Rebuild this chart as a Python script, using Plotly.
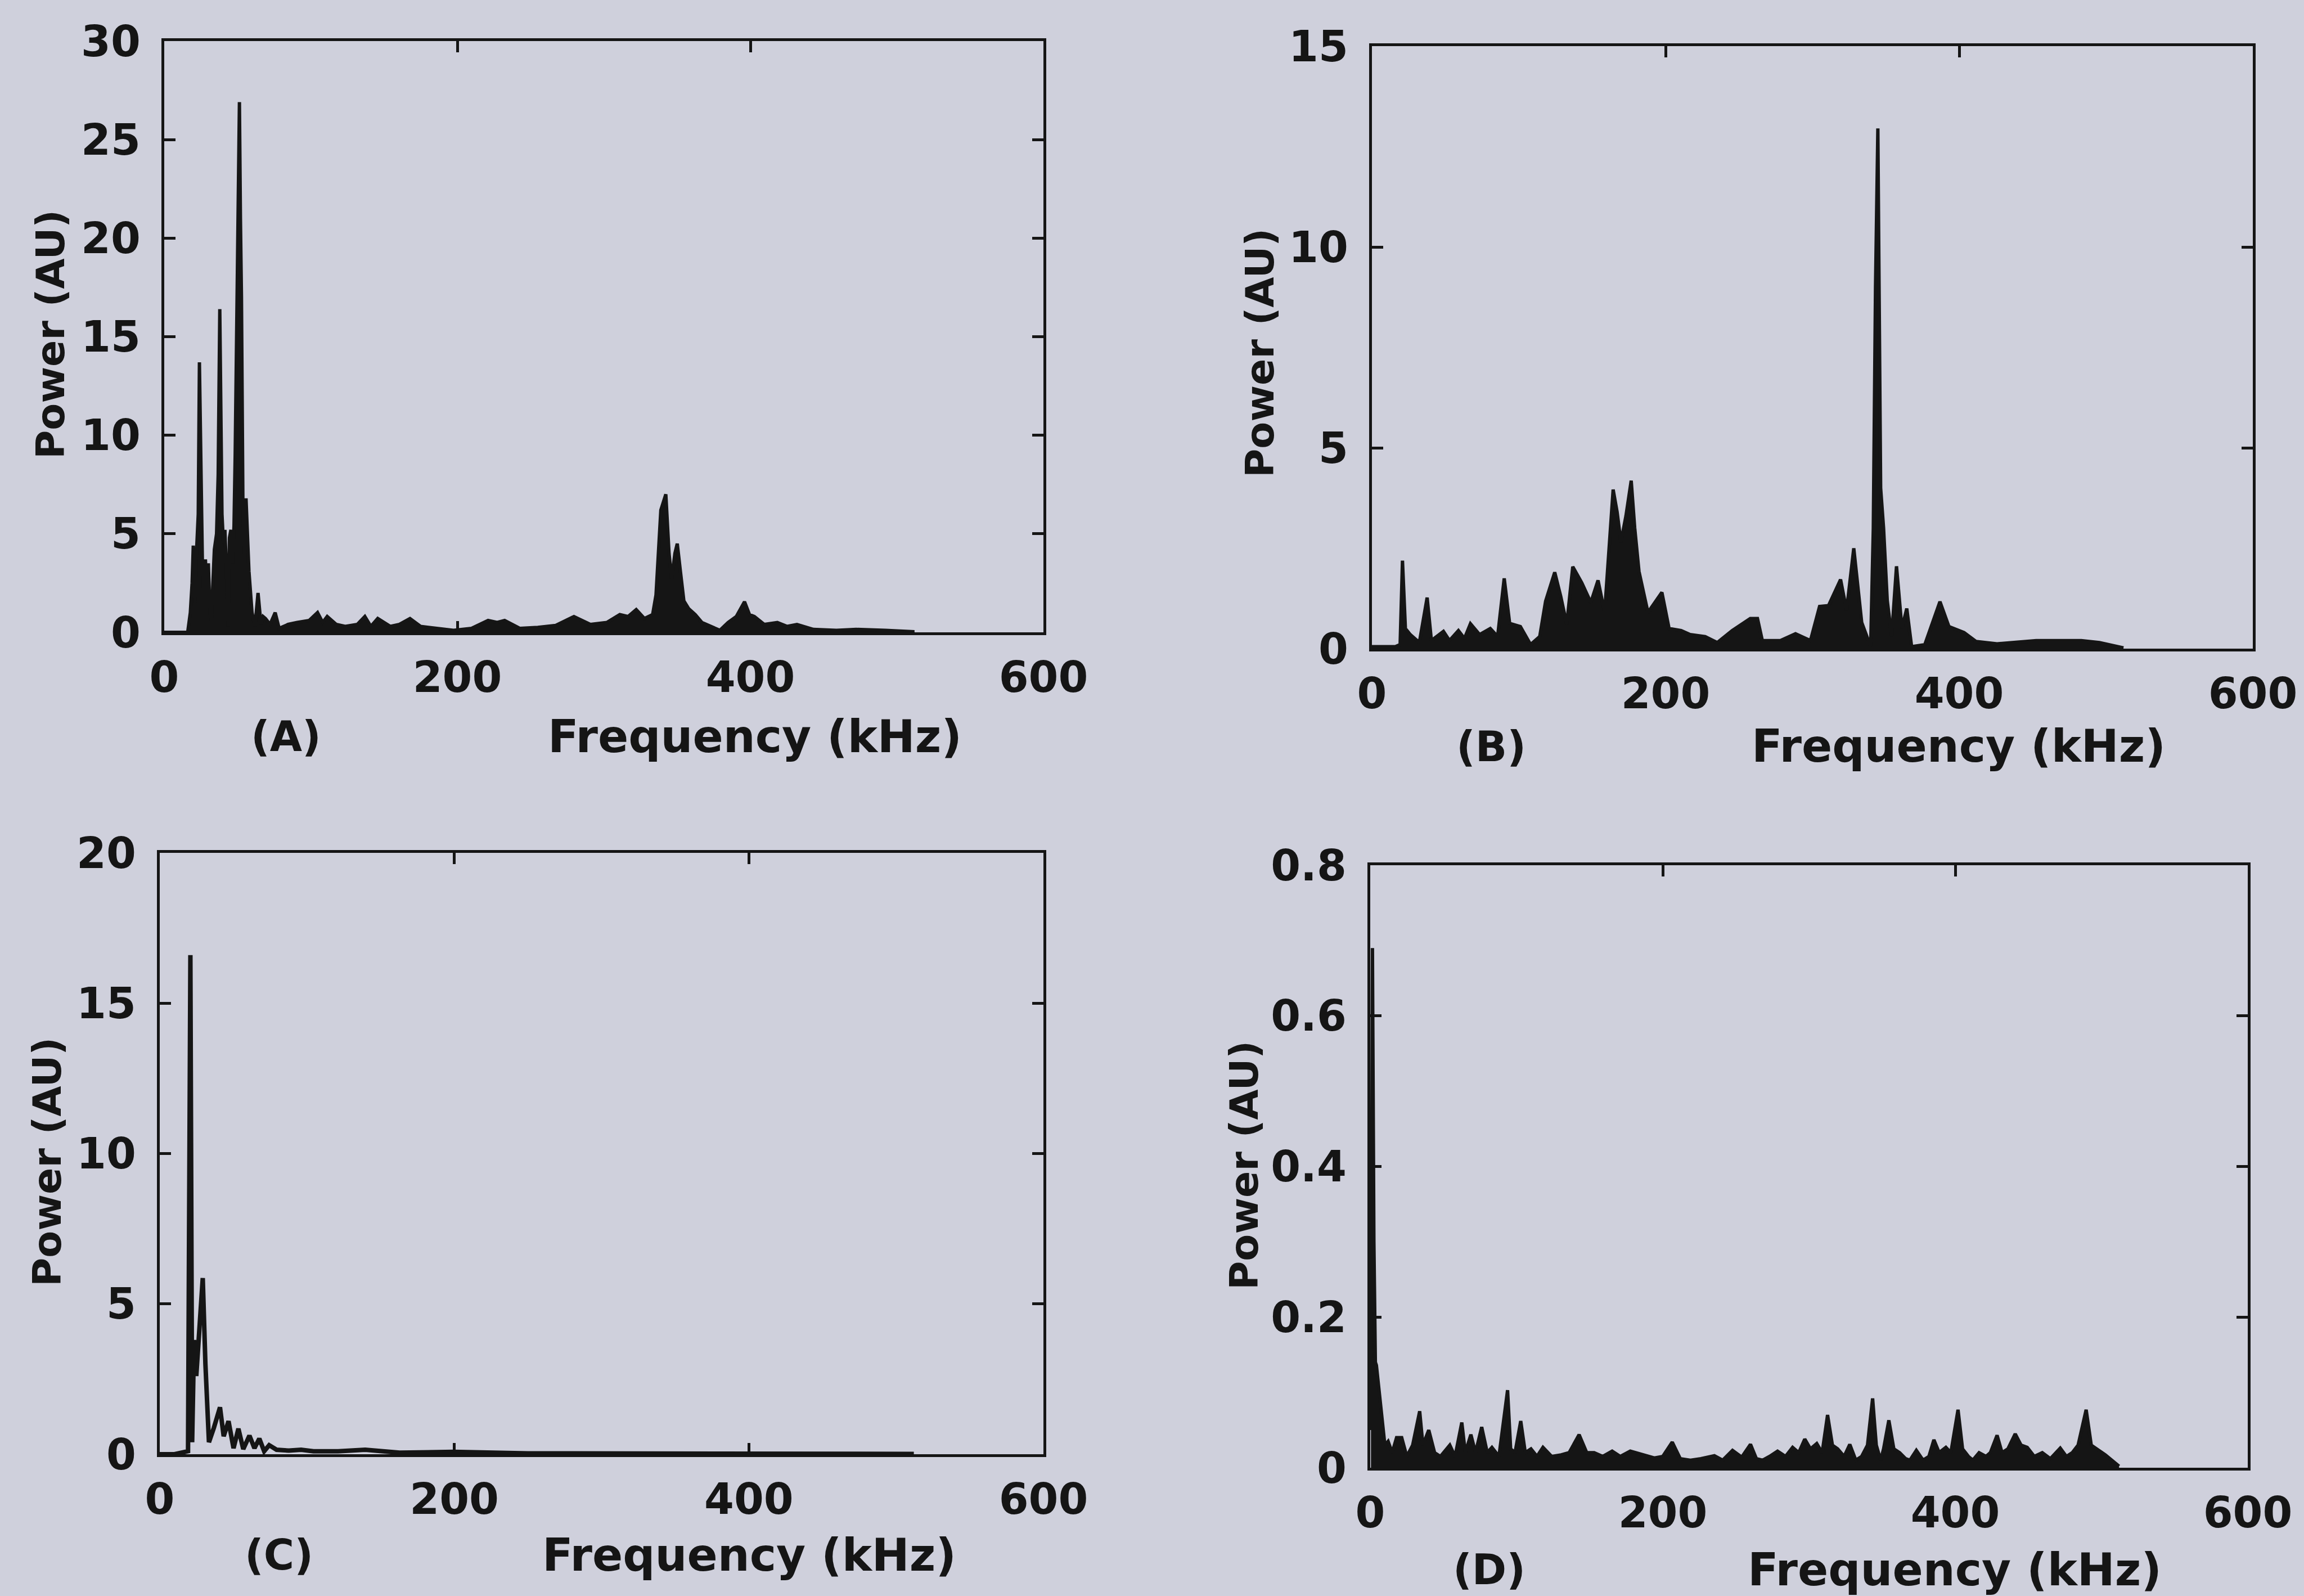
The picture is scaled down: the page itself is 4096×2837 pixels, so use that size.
import plotly.graph_objects as go

# ---------------- data ----------------
FREQ_A = [0, 10, 16, 17.8, 19.0, 19.8, 21.0, 21.9, 23.2, 24.0, 25.0, 26.0, 27.0, 28.1, 29.0,
          30.1, 31.2, 32.2, 33.2, 34.2, 35.7, 36.8, 37.9, 38.8, 39.4, 40.4, 41.4, 42.5, 43.5,
          44.5, 45.5, 46.5, 47.6, 48.4, 49.2, 50.3, 51.3, 52.0, 52.7, 53.7, 54.7, 55.8, 56.8,
          57.8, 59.9, 61.9, 64.0, 66.0, 67.5, 69.1, 72.2, 75.7, 78.4, 84.5, 90.7, 98.9, 104.6,
          108.1, 111.2, 117.4, 123.5, 131.7, 136.9, 141.0, 145.7, 154.3, 160.5, 167.7, 174.9,
          185.1, 197.4, 209.7, 221.0, 227.2, 232.3, 242.6, 254.9, 267.2, 279.6, 290.8, 302.0,
          310.9, 316.5, 322.1, 327.7, 333.3, 335.6, 338.9, 342.3, 344.5, 346.3, 348.5, 350.1,
          352.4, 354.6, 357.9, 362.4, 366.9, 373.6, 379.2, 384.8, 390.4, 396.0, 399.4, 402.7,
          409.5, 418.4, 425.1, 431.8, 443.0, 458.7, 472.2, 492.3, 512.0]
POWER_A = [0, 0, 0, 1.0, 2.5, 4.4, 1.5, 3.9, 6.0, 13.7, 8.0, 3.7, 2.0, 3.7, 2.0,
           3.5, 1.0, 0.6, 2.5, 4.2, 5.0, 8.0, 16.4, 9.0, 6.0, 4.5, 5.2, 3.0, 0.3,
           4.8, 5.2, 3.5, 5.4, 9.0, 14.8, 20.0, 26.9, 21.0, 17.0, 6.3, 4.0, 6.8, 5.0,
           3.1, 1.0, 0.3, 2.0, 0.4, 0.8, 0.7, 0.4, 1.0, 0.2, 0.4, 0.5, 0.6, 1.0,
           0.5, 0.8, 0.4, 0.3, 0.4, 0.8, 0.3, 0.7, 0.3, 0.4, 0.7, 0.3,
           0.2, 0.1, 0.2, 0.6, 0.5, 0.6, 0.2, 0.25, 0.35, 0.8, 0.4, 0.5,
           0.9, 0.8, 1.15, 0.7, 0.9, 1.9, 6.2, 7.0, 4.0, 2.7, 4.0, 4.5,
           3.0, 1.6, 1.2, 0.9, 0.5, 0.3, 0.1, 0.5, 0.8, 1.55, 0.9, 0.8,
           0.4, 0.5, 0.3, 0.4, 0.15, 0.1, 0.15, 0.1, 0.03]

FREQ_B = [0, 15.9, 19.2, 20.8, 22.8, 26.1, 32.3, 37.6, 40.5, 48.7, 52.8, 58.9, 63.0, 67.1,
          73.3, 80.6, 85.6, 90.1, 93.8, 101.1, 108.1, 114.3, 118.3, 124.5, 128.6, 132.7,
          136.8, 142.9, 149.1, 154.0, 158.5, 164.3, 167.0, 169.6, 173.0, 176.6, 179.0, 181.9,
          188.0, 197.5, 202.4, 210.6, 216.7, 227.0, 235.2, 245.4, 257.7, 262.6, 265.9, 278.2,
          288.5, 298.7, 304.9, 311.0, 319.2, 323.3, 328.2, 333.6, 339.7, 341.5, 343.0, 344.6,
          346.5, 348.5, 351.0, 354.0, 357.3, 361.0, 364.3, 367.6, 376.6, 386.9, 393.0, 403.3,
          411.4, 425.8, 452.4, 483.2, 495.5, 511.9]
POWER_B = [0.05, 0.05, 0.1, 2.19, 0.5, 0.35, 0.15, 1.27, 0.2, 0.43, 0.2, 0.45, 0.25, 0.62,
           0.35, 0.5, 0.3, 1.75, 0.63, 0.55, 0.1, 0.3, 1.18, 1.9, 1.3, 0.6,
           2.04, 1.64, 1.15, 1.7, 0.9, 3.96, 3.4, 2.65, 3.3, 4.18, 3.0, 1.92,
           0.9, 1.4, 0.5, 0.45, 0.35, 0.3, 0.15, 0.45, 0.75, 0.75, 0.2, 0.2,
           0.37, 0.2, 1.05, 1.07, 1.72, 0.95, 2.5, 0.65, 0.05, 3.0, 9.0, 12.95,
           4.0, 3.0, 1.2, 0.3, 2.05, 0.5, 1.0, 0.05, 0.1, 1.17, 0.55, 0.4,
           0.18, 0.12, 0.2, 0.2, 0.15, 0.02]

FREQ_C = [0, 10, 19.2, 20.8, 22.0, 23.3, 24.8, 27.5, 29.2, 31.0, 33.4, 36.7, 40.9, 43.4, 46.7,
          50.1, 53.4, 56.7, 60.9, 64.3, 67.6, 70.9, 74.3, 79.3, 87.7, 96.0, 104.4, 121.1, 139.5,
          162.9, 199.6, 250, 300, 400, 512]
POWER_C = [0, 0, 0.1, 16.6, 0.4, 3.8, 2.6, 5.0, 5.86, 3.0, 0.4, 0.87, 1.56, 0.6, 1.1,
           0.2, 0.85, 0.17, 0.62, 0.2, 0.52, 0.1, 0.3, 0.15, 0.12, 0.15, 0.1, 0.1, 0.15,
           0.05, 0.08, 0.03, 0.02, 0.02, 0.01]

FREQ_D = [0.5, 1.5, 2.5, 3.5, 4.2, 6, 8.1, 10, 12.2, 15, 18, 21.5, 25, 29, 33.8, 36, 40, 44, 48,
          54.4, 58, 62.6, 65, 68.8, 72, 76.2, 80, 83.2, 88, 93.9, 96, 99, 102.9, 106, 109.9, 114,
          118.1, 124, 130.5, 136, 142.8, 148, 153.1, 159, 165.4, 171, 177.8, 185, 194.2, 200,
          206.5, 212, 218.9, 226, 235.3, 241, 247.7, 254, 260, 264, 268.3, 273, 278.5, 284,
          288.8, 293, 297.1, 301, 305.3, 309, 312.7, 316, 319.6, 324, 327.9, 332, 336, 340,
          343.5, 346, 349, 351, 354.6, 358, 362, 366, 369, 373.4, 378, 382, 385.4, 389, 393.6,
          397, 401.9, 405, 409, 412, 416.3, 421, 424, 428.6, 432, 436, 441, 445, 449.2, 454,
          459.5, 465, 471.8, 476, 480, 484, 489.5, 493, 497, 502.6, 507, 512]
POWER_D = [0.05, 0.69, 0.3, 0.14, 0.136, 0.1, 0.064, 0.03, 0.035, 0.02, 0.04, 0.04, 0.015, 0.03,
           0.075, 0.03, 0.05, 0.02, 0.015, 0.03, 0.015, 0.06, 0.02, 0.044, 0.02, 0.054, 0.02,
           0.027, 0.015, 0.103, 0.025, 0.02, 0.062, 0.02, 0.025, 0.015, 0.027, 0.015, 0.017,
           0.02, 0.044, 0.02, 0.02, 0.015, 0.022, 0.015, 0.022, 0.018, 0.013, 0.015, 0.034,
           0.012, 0.01, 0.012, 0.016, 0.01, 0.023, 0.014, 0.031, 0.012, 0.01, 0.015, 0.022,
           0.015, 0.027, 0.02, 0.038, 0.025, 0.032, 0.02, 0.07, 0.03, 0.025, 0.015, 0.031,
           0.01, 0.015, 0.03, 0.092, 0.03, 0.01, 0.025, 0.063, 0.025, 0.02, 0.012, 0.01,
           0.023, 0.01, 0.015, 0.037, 0.02, 0.027, 0.02, 0.077, 0.025, 0.015, 0.01, 0.02,
           0.015, 0.02, 0.043, 0.02, 0.025, 0.045, 0.03, 0.027, 0.015, 0.02, 0.012, 0.026,
           0.015, 0.02, 0.03, 0.077, 0.03, 0.025, 0.017, 0.01, 0.002]

X_TICKS = [0, 200, 400, 600]
Y_TICKS_A = [0, 5, 10, 15, 20, 25, 30]
Y_TICKS_B = [0, 5, 10, 15]
Y_TICKS_C = [0, 5, 10, 15, 20]
Y_TICKS_D = [0, 0.2, 0.4, 0.6, 0.8]
PANEL_LABELS = ["(A)", "(B)", "(C)", "(D)"]
X_TITLE = "Frequency (kHz)"
Y_TITLE = "Power (AU)"

# ---------------- layout ----------------
W, H = 4096, 2837
BG = "#cfd0dc"
INK = "#151515"
FONT = "DejaVu Sans"

def px_x(v):
    return v / W

def px_y(v):
    return 1 - v / H

panels = [
    dict(x=FREQ_A, y=POWER_A, fill=True, yt=Y_TICKS_A, ymax=30,
         xr=(292, 1855), yr=(73, 1124), lab=(508, 1309), xt=(1342, 1309), ytp=(90, 595)),
    dict(x=FREQ_B, y=POWER_B, fill=True, yt=Y_TICKS_B, ymax=15,
         xr=(2439, 4005), yr=(82, 1153), lab=(2651, 1327), xt=(3482, 1327), ytp=(2240, 628)),
    dict(x=FREQ_C, y=POWER_C, fill=False, yt=Y_TICKS_C, ymax=20,
         xr=(284, 1855), yr=(1516, 2585), lab=(496, 2764), xt=(1332, 2764), ytp=(84, 2066)),
    dict(x=FREQ_D, y=POWER_D, fill=True, yt=Y_TICKS_D, ymax=0.8,
         xr=(2436, 3996), yr=(1538, 2609), lab=(2647, 2790), xt=(3475, 2790), ytp=(2212, 2072)),
]

fig = go.Figure()
layout = dict(
    width=W, height=H,
    margin=dict(l=0, r=0, t=0, b=0, autoexpand=False),
    paper_bgcolor=BG, plot_bgcolor=BG,
    showlegend=False,
    annotations=[],
)

tick_font = dict(family=FONT, size=76, color=INK, weight="bold")
xtitle_font = dict(family=FONT, size=80, color=INK, weight="bold")
ytitle_font = dict(family=FONT, size=70, color=INK, weight="bold")
label_font = dict(family=FONT, size=74, color=INK, weight="bold")

for i, p in enumerate(panels):
    n = "" if i == 0 else str(i + 1)
    xa, ya = "x" + n, "y" + n
    trace = dict(x=p["x"], y=p["y"], mode="lines", xaxis=xa, yaxis=ya,
                 line=dict(color=INK, width=6 if p["fill"] else 8), hoverinfo="skip")
    if p["fill"]:
        trace.update(fill="tozeroy", fillcolor=INK)
    fig.add_trace(go.Scatter(**trace))

    common = dict(showline=True, linecolor=INK, linewidth=5, mirror="ticks",
                  ticks="inside", ticklen=20, tickwidth=5, tickcolor=INK,
                  showgrid=False, zeroline=False, tickfont=tick_font, automargin=False)
    layout["xaxis" + n] = dict(common, domain=[px_x(p["xr"][0]), px_x(p["xr"][1])],
                               range=[0, 600], tickvals=X_TICKS, anchor=ya,
                               ticklabelstandoff=10)
    layout["yaxis" + n] = dict(common, domain=[px_y(p["yr"][1]), px_y(p["yr"][0])],
                               range=[0, p["ymax"]], tickvals=p["yt"], anchor=xa,
                               ticklabelstandoff=22)
    layout["annotations"] += [
        dict(text=PANEL_LABELS[i], x=px_x(p["lab"][0]), y=px_y(p["lab"][1]),
             xref="paper", yref="paper", showarrow=False, font=label_font,
             xanchor="center", yanchor="middle"),
        dict(text=X_TITLE, x=px_x(p["xt"][0]), y=px_y(p["xt"][1]),
             xref="paper", yref="paper", showarrow=False, font=xtitle_font,
             xanchor="center", yanchor="middle"),
        dict(text=Y_TITLE, x=px_x(p["ytp"][0]), y=px_y(p["ytp"][1]),
             xref="paper", yref="paper", showarrow=False, font=ytitle_font,
             textangle=-90, xanchor="center", yanchor="middle"),
    ]

fig.update_layout(**layout)
fig.write_html("out.html")
